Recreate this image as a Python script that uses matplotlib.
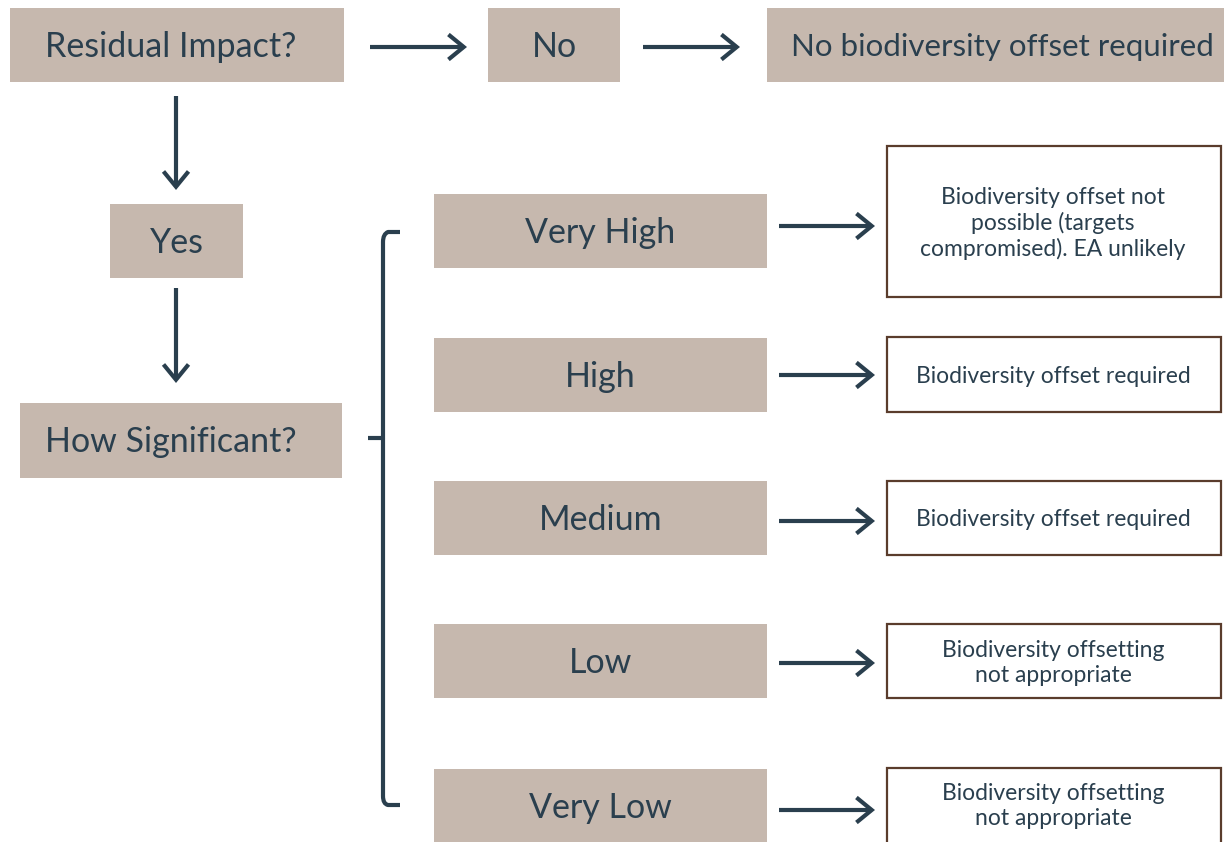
import matplotlib
matplotlib.use("Agg")
import matplotlib.pyplot as plt
from matplotlib.patches import Rectangle, FancyArrowPatch
from matplotlib.path import Path
from matplotlib.patches import PathPatch

plt.rcParams['font.family'] = ['Lato', 'DejaVu Sans']

FILL = '#c6b8ae'
INK = '#2a3f4e'
EDGE = '#5a3c2c'

# flow labels
top_labels = ['Residual Impact?', 'No', 'No biodiversity offset required']
left_labels = ['Yes', 'How Significant?']
levels = ['Very High', 'High', 'Medium', 'Low', 'Very Low']
outcomes = ['Biodiversity offset not\npossible (targets\ncompromised). EA unlikely',
            'Biodiversity offset required',
            'Biodiversity offset required',
            'Biodiversity offsetting\nnot appropriate',
            'Biodiversity offsetting\nnot appropriate']

fig = plt.figure(figsize=(12.24, 8.42), dpi=100)
ax = fig.add_axes([0, 0, 1, 1])
ax.set_xlim(0, 1224)
ax.set_ylim(842, 0)
ax.axis('off')


def box(x0, y0, x1, y1, text, size=24.5, ha='center', tx=None, ty=None, filled=True):
    if filled:
        ax.add_patch(Rectangle((x0, y0), x1 - x0, y1 - y0, facecolor=FILL, edgecolor='none'))
    else:
        ax.add_patch(Rectangle((x0, y0), x1 - x0, y1 - y0, facecolor='white',
                               edgecolor=EDGE, linewidth=1.6))
    if tx is None:
        tx = (x0 + x1) / 2
    if ty is None:
        ty = (y0 + y1) / 2 + 2
    ax.text(tx, ty, text, ha=ha, va='center', fontsize=size, color=INK,
            linespacing=1.22)


def arrow(x0, y0, x1, y1):
    ax.add_patch(FancyArrowPatch((x0, y0), (x1, y1), arrowstyle='->,head_length=0.55,head_width=0.45',
                                 color=INK, linewidth=3, mutation_scale=20, shrinkA=0, shrinkB=0,
                                 joinstyle='miter', capstyle='butt'))


# top row
box(10, 8, 344, 82, top_labels[0], ha='left', tx=45)
box(488, 8, 620, 82, top_labels[1])
box(767, 8, 1234, 82, top_labels[2], size=22.5, tx=1002)
arrow(370, 47, 467, 47)
arrow(643, 47, 740, 47)

# left column
box(110, 204, 243, 278, left_labels[0])
box(20, 403, 342, 478, left_labels[1], ha='left', tx=45)
arrow(176, 96, 176, 190)
arrow(176, 288, 176, 383)

# levels and outcomes
lvl_top = [194, 338, 481, 624, 769]
out_box = [(146, 297), (337, 412), (481, 555), (624, 698), (768, 852)]
arrow_y = [226, 375, 521, 663, 810]
for i, lab in enumerate(levels):
    y0 = lvl_top[i]
    box(434, y0, 767, y0 + 74, lab)
    oy0, oy1 = out_box[i]
    ty = 806 if i == 4 else None
    box(887, oy0, 1221, oy1, outcomes[i], size=16.5, ty=ty, tx=1053, filled=False)
    arrow(779, arrow_y[i], 875, arrow_y[i])

# bracket
verts = [(400, 232), (388, 232), (383, 234), (383, 242), (383, 430), (383, 438),
         (368, 438), (383, 438), (383, 446), (383, 796), (383, 804), (388, 805), (400, 805)]
codes = [Path.MOVETO, Path.LINETO, Path.CURVE3, Path.CURVE3, Path.LINETO, Path.LINETO,
         Path.LINETO, Path.MOVETO, Path.LINETO, Path.LINETO, Path.CURVE3, Path.CURVE3, Path.LINETO]
ax.add_patch(PathPatch(Path(verts, codes), facecolor='none', edgecolor=INK, linewidth=3,
                       capstyle='butt', joinstyle='round'))

fig.savefig('out.png', dpi=100)
